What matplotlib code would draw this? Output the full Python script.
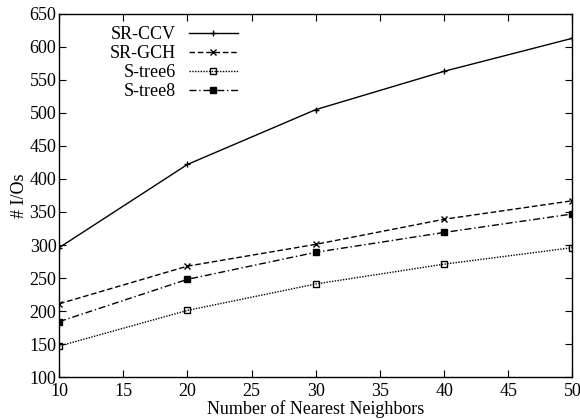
import matplotlib
matplotlib.use('Agg')
import matplotlib.pyplot as plt

neighbors = [10, 20, 30, 40, 50]
sr_ccv = [296, 422, 505, 563, 613]
sr_gch = [211, 268, 301, 339, 367]
s_tree6 = [147, 201, 241, 271, 296]
s_tree8 = [184, 248, 289, 319, 347]

plt.rcParams['font.family'] = ['Liberation Serif', 'DejaVu Serif']
plt.rcParams['font.size'] = 13

fig = plt.figure(figsize=(5.8, 4.19), dpi=100)
ax = fig.add_axes([0.102, 0.100, 0.885, 0.867])

ax.plot(neighbors, sr_ccv, color='black', lw=1, ls='-', marker='+', ms=5, mew=1, label='SR-CCV')
ax.plot(neighbors, sr_gch, color='black', lw=1, ls=(0, (4, 2)), marker='x', ms=4, mew=1, label='SR-GCH')
ax.plot(neighbors, s_tree6, color='black', lw=1, ls=(0, (1, 1)), marker='s', ms=4, mew=1,
        mfc='none', label='S-tree6')
ax.plot(neighbors, s_tree8, color='black', lw=1, ls=(0, (5, 2, 1, 2)), marker='s', ms=5, mew=1,
        mfc='black', label='S-tree8')

ax.set_xlim(10, 50)
ax.set_ylim(100, 650)
ax.set_xticks(range(10, 51, 5))
ax.set_yticks(range(100, 651, 50))
ax.tick_params(direction='in', top=True, right=True, length=5, width=0.8)
ax.tick_params(axis='x', pad=4)
ax.tick_params(axis='y', pad=2)
for s in ax.spines.values():
    s.set_linewidth(1)

ax.set_xlabel('Number of Nearest Neighbors', labelpad=0)
ax.set_ylabel('# I/Os', labelpad=1)

leg = ax.legend(loc='upper left', bbox_to_anchor=(0.085, 0.985), frameon=False, markerfirst=False,
                handlelength=2.7, handletextpad=0.7, labelspacing=0.1, borderaxespad=0)
for t in leg.get_texts():
    t.set_ha('right')

fig.savefig('out.png', dpi=100)
